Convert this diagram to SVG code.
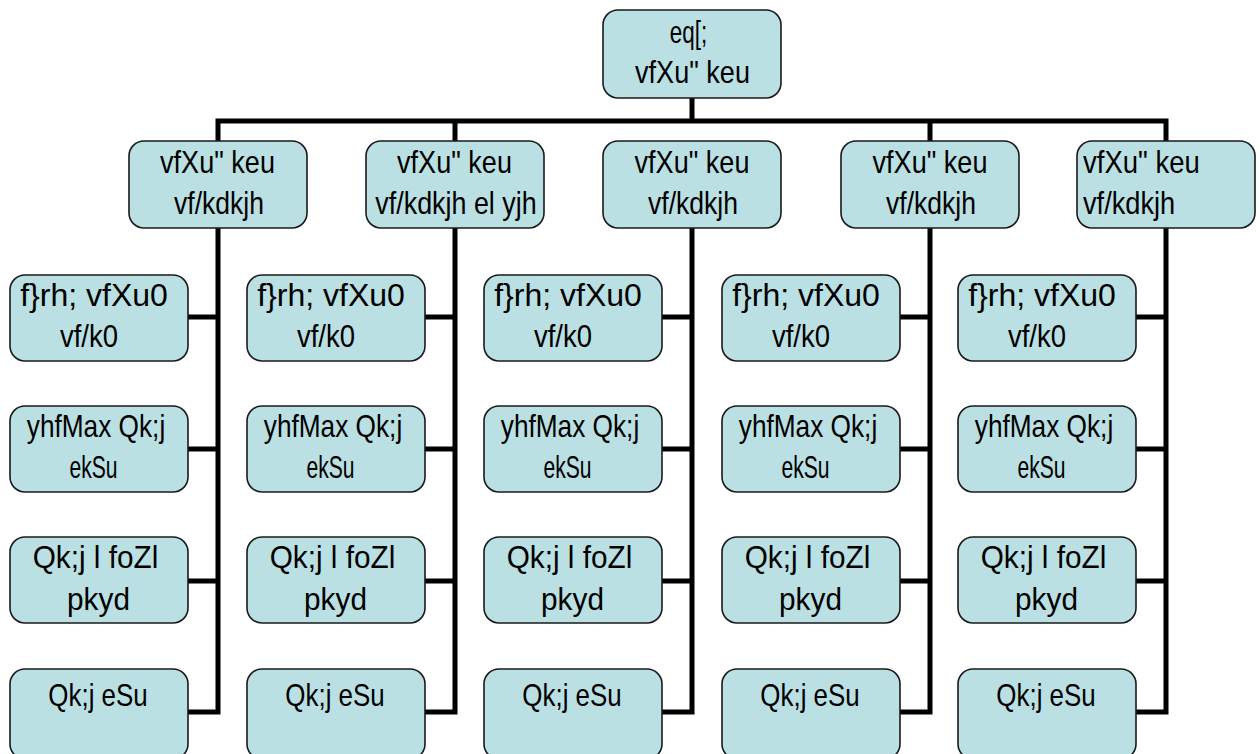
<svg xmlns="http://www.w3.org/2000/svg" width="1260" height="754" viewBox="0 0 1260 754">
<style>
.box{fill:#bae0e3;stroke:#1a1a1a;stroke-width:1.6}
.t{font-family:"Liberation Sans",Arial,sans-serif;font-size:32px;fill:#000;text-anchor:middle}
.s{text-anchor:start}
.ln{fill:none;stroke:#000;stroke-width:5;stroke-linejoin:miter;stroke-linecap:butt}
</style>
<rect width="1260" height="754" fill="#fff"/>
<g id="connectors">
<path class="ln" d="M692 98V121M218 141V121H1166V141M455 121V141M930 121V141"/>
<path class="ln" d="M218 228V712H188M188 317H218M188 449H218M188 581H218"/>
<path class="ln" d="M455 228V712H425M425 317H455M425 449H455M425 581H455"/>
<path class="ln" d="M692 228V712H662M662 317H692M662 449H692M662 581H692"/>
<path class="ln" d="M930 228V712H900M900 317H930M900 449H930M900 581H930"/>
<path class="ln" d="M1166 228V712H1136M1136 317H1166M1136 449H1166M1136 581H1166"/>
</g>
<g id="n0"><rect class="box" x="603" y="10" width="178" height="88" rx="15"/>
<g transform="translate(688.5 43) scale(0.7 1)"><text class="t">eq[;</text></g>
<g transform="translate(692.5 83) scale(0.846 1)"><text class="t">vfXu" keu</text></g></g>
<g id="n1"><rect class="box" x="129" y="141" width="178" height="87" rx="15"/>
<g transform="translate(217.5 173) scale(0.846 1)"><text class="t">vfXu" keu</text></g>
<g transform="translate(219 214) scale(0.83 1)"><text class="t">vf/kdkjh</text></g></g>
<g id="n2"><rect class="box" x="366" y="141" width="178" height="87" rx="15"/>
<g transform="translate(454.5 173) scale(0.846 1)"><text class="t">vfXu" keu</text></g>
<g transform="translate(456 214) scale(0.84 1)"><text class="t">vf/kdkjh el yjh</text></g></g>
<g id="n3"><rect class="box" x="603" y="141" width="178" height="87" rx="15"/>
<g transform="translate(692 173) scale(0.846 1)"><text class="t">vfXu" keu</text></g>
<g transform="translate(693 214) scale(0.83 1)"><text class="t">vf/kdkjh</text></g></g>
<g id="n4"><rect class="box" x="841" y="141" width="178" height="87" rx="15"/>
<g transform="translate(930 173) scale(0.846 1)"><text class="t">vfXu" keu</text></g>
<g transform="translate(931 214) scale(0.83 1)"><text class="t">vf/kdkjh</text></g></g>
<g id="n5"><rect class="box" x="1077" y="141" width="178" height="87" rx="15"/>
<g transform="translate(1083 173) scale(0.86 1)"><text class="t s">vfXu" keu</text></g>
<g transform="translate(1083 214) scale(0.85 1)"><text class="t s">vf/kdkjh</text></g></g>
<g id="c1">
<g id="c1a"><rect class="box" x="10" y="275" width="178" height="86" rx="15"/>
<g transform="translate(94 306)"><text class="t">f}rh; vfXu0</text></g>
<g transform="translate(89 347) scale(0.86 1)"><text class="t">vf/k0</text></g></g>
<g id="c1b"><rect class="box" x="10" y="406" width="178" height="86" rx="15"/>
<g transform="translate(96 437) scale(0.82 1)"><text class="t">yhfMax Qk;j</text></g>
<g transform="translate(93.5 478) scale(0.66 1)"><text class="t">ekSu</text></g></g>
<g id="c1c"><rect class="box" x="10" y="537" width="178" height="86" rx="15"/>
<g transform="translate(95.5 568) scale(0.93 1)"><text class="t">Qk;j l foZl</text></g>
<g transform="translate(98.5 610) scale(0.93 1)"><text class="t">pkyd</text></g></g>
<g id="c1d"><rect class="box" x="10" y="669" width="178" height="90" rx="15"/>
<g transform="translate(98 706) scale(0.81 1)"><text class="t">Qk;j eSu</text></g></g>
</g>
<g id="c2">
<g id="c2a"><rect class="box" x="247" y="275" width="178" height="86" rx="15"/>
<g transform="translate(331 306)"><text class="t">f}rh; vfXu0</text></g>
<g transform="translate(326 347) scale(0.86 1)"><text class="t">vf/k0</text></g></g>
<g id="c2b"><rect class="box" x="247" y="406" width="178" height="86" rx="15"/>
<g transform="translate(333 437) scale(0.82 1)"><text class="t">yhfMax Qk;j</text></g>
<g transform="translate(330.5 478) scale(0.66 1)"><text class="t">ekSu</text></g></g>
<g id="c2c"><rect class="box" x="247" y="537" width="178" height="86" rx="15"/>
<g transform="translate(332.5 568) scale(0.93 1)"><text class="t">Qk;j l foZl</text></g>
<g transform="translate(335.5 610) scale(0.93 1)"><text class="t">pkyd</text></g></g>
<g id="c2d"><rect class="box" x="247" y="669" width="178" height="90" rx="15"/>
<g transform="translate(335 706) scale(0.81 1)"><text class="t">Qk;j eSu</text></g></g>
</g>
<g id="c3">
<g id="c3a"><rect class="box" x="484" y="275" width="178" height="86" rx="15"/>
<g transform="translate(568 306)"><text class="t">f}rh; vfXu0</text></g>
<g transform="translate(563 347) scale(0.86 1)"><text class="t">vf/k0</text></g></g>
<g id="c3b"><rect class="box" x="484" y="406" width="178" height="86" rx="15"/>
<g transform="translate(570 437) scale(0.82 1)"><text class="t">yhfMax Qk;j</text></g>
<g transform="translate(567.5 478) scale(0.66 1)"><text class="t">ekSu</text></g></g>
<g id="c3c"><rect class="box" x="484" y="537" width="178" height="86" rx="15"/>
<g transform="translate(569.5 568) scale(0.93 1)"><text class="t">Qk;j l foZl</text></g>
<g transform="translate(572.5 610) scale(0.93 1)"><text class="t">pkyd</text></g></g>
<g id="c3d"><rect class="box" x="484" y="669" width="178" height="90" rx="15"/>
<g transform="translate(572 706) scale(0.81 1)"><text class="t">Qk;j eSu</text></g></g>
</g>
<g id="c4">
<g id="c4a"><rect class="box" x="722" y="275" width="178" height="86" rx="15"/>
<g transform="translate(806 306)"><text class="t">f}rh; vfXu0</text></g>
<g transform="translate(801 347) scale(0.86 1)"><text class="t">vf/k0</text></g></g>
<g id="c4b"><rect class="box" x="722" y="406" width="178" height="86" rx="15"/>
<g transform="translate(808 437) scale(0.82 1)"><text class="t">yhfMax Qk;j</text></g>
<g transform="translate(805.5 478) scale(0.66 1)"><text class="t">ekSu</text></g></g>
<g id="c4c"><rect class="box" x="722" y="537" width="178" height="86" rx="15"/>
<g transform="translate(807.5 568) scale(0.93 1)"><text class="t">Qk;j l foZl</text></g>
<g transform="translate(810.5 610) scale(0.93 1)"><text class="t">pkyd</text></g></g>
<g id="c4d"><rect class="box" x="722" y="669" width="178" height="90" rx="15"/>
<g transform="translate(810 706) scale(0.81 1)"><text class="t">Qk;j eSu</text></g></g>
</g>
<g id="c5">
<g id="c5a"><rect class="box" x="958" y="275" width="178" height="86" rx="15"/>
<g transform="translate(1042 306)"><text class="t">f}rh; vfXu0</text></g>
<g transform="translate(1037 347) scale(0.86 1)"><text class="t">vf/k0</text></g></g>
<g id="c5b"><rect class="box" x="958" y="406" width="178" height="86" rx="15"/>
<g transform="translate(1044 437) scale(0.82 1)"><text class="t">yhfMax Qk;j</text></g>
<g transform="translate(1041.5 478) scale(0.66 1)"><text class="t">ekSu</text></g></g>
<g id="c5c"><rect class="box" x="958" y="537" width="178" height="86" rx="15"/>
<g transform="translate(1043.5 568) scale(0.93 1)"><text class="t">Qk;j l foZl</text></g>
<g transform="translate(1046.5 610) scale(0.93 1)"><text class="t">pkyd</text></g></g>
<g id="c5d"><rect class="box" x="958" y="669" width="178" height="90" rx="15"/>
<g transform="translate(1046 706) scale(0.81 1)"><text class="t">Qk;j eSu</text></g></g>
</g>
</svg>
